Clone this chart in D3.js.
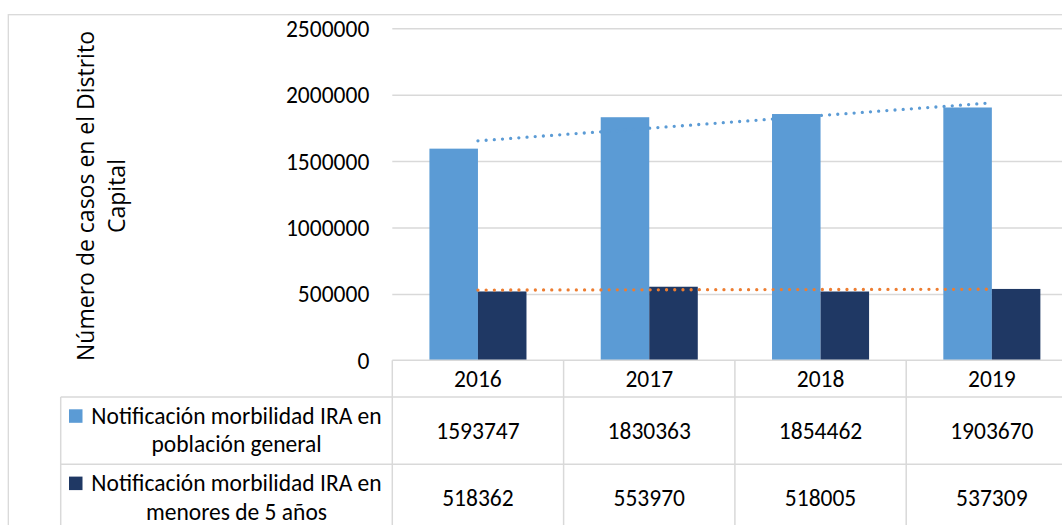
<!DOCTYPE html>
<html>
<head>
<meta charset="utf-8">
<script src="https://cdn.jsdelivr.net/npm/d3@7"></script>
<style>
  html, body { margin: 0; padding: 0; background: #fff; }
  svg { display: block; }
  .tbl text, .tick text { font-family: Carlito, Lato, "Liberation Sans", sans-serif; fill: #000; }
  .ytitle { font-family: "Open Sans", "Noto Sans", sans-serif; fill: #000; }
</style>
</head>
<body>
<svg id="chart" width="1062" height="525"></svg>
<script>
// Years shown on the category axis / table header
const categories = ["2016", "2017", "2018", "2019"];
// Notificación morbilidad IRA en población general
const generalValues = [1593747, 1830363, 1854462, 1903670];
// Notificación morbilidad IRA en menores de 5 años
const menoresValues = [518362, 553970, 518005, 537309];
// Series names as they wrap inside the data-table legend cells
const generalName = ["Notificación morbilidad IRA en", "población general"];
const menoresName = ["Notificación morbilidad IRA en", "menores de 5 años"];
// Value axis ticks
const yTicks = [0, 500000, 1000000, 1500000, 2000000, 2500000];
// Axis title lines
const yTitle = ["Número de casos en el Distrito", "Capital"];

const colors = { general: "#5B9BD5", menores: "#1F3864", trendGeneral: "#5B9BD5", trendMenores: "#ED7D31", grid: "#D9D9D9" };

const series = [
  { key: "general", values: generalValues, name: generalName, color: colors.general, trend: colors.trendGeneral },
  { key: "menores", values: menoresValues, name: menoresName, color: colors.menores, trend: colors.trendMenores }
];

const svg = d3.select("#chart");
const fontSize = 23.5;

const plotLeft = 392.3, plotRight = 1077.5;
const plotTop = 28.3, plotBottom = 360.3;

const x = d3.scaleBand().domain(categories).range([plotLeft, plotRight]).paddingInner(0).paddingOuter(0);
const xSub = d3.scaleBand().domain(series.map(s => s.key)).range([0, x.bandwidth()]).paddingInner(0).paddingOuter(0.765);
const y = d3.scaleLinear().domain([0, 2500000]).range([plotBottom, plotTop]);

// Chart area frame
svg.append("rect")
  .attr("x", 8.3).attr("y", 14.7)
  .attr("width", 1100).attr("height", 600)
  .attr("fill", "none").attr("stroke", colors.grid).attr("stroke-width", 1.3);

// Horizontal gridlines
svg.append("g")
  .attr("transform", `translate(${plotLeft},0)`)
  .call(d3.axisLeft(y).tickValues(yTicks.filter(t => t > 0)).tickSize(-(plotRight - plotLeft)).tickFormat(""))
  .call(g => g.select(".domain").remove())
  .call(g => g.selectAll("line").attr("stroke", colors.grid).attr("stroke-width", 1.5));

// Tick labels
svg.append("g")
  .attr("transform", `translate(${plotLeft},0)`)
  .call(d3.axisLeft(y).tickValues(yTicks).tickSize(0).tickPadding(23).tickFormat(d3.format("d")))
  .call(g => g.select(".domain").remove())
  .call(g => g.selectAll("text").attr("font-size", fontSize).attr("dy", "0.34em"));

// Bars
series.forEach(s => {
  svg.append("g").selectAll("rect")
    .data(categories.map((c, i) => ({ c, v: s.values[i] })))
    .join("rect")
    .attr("x", d => x(d.c) + xSub(s.key))
    .attr("width", xSub.bandwidth())
    .attr("y", d => y(d.v))
    .attr("height", d => y(0) - y(d.v))
    .attr("fill", s.color);
});

// Linear trendlines (least squares over category index 1..n)
function linearFit(vals) {
  const xs = vals.map((_, i) => i + 1);
  const mx = d3.mean(xs), my = d3.mean(vals);
  const sxy = d3.sum(xs, (xi, i) => (xi - mx) * (vals[i] - my));
  const sxx = d3.sum(xs, xi => (xi - mx) * (xi - mx));
  const b = sxy / sxx, a = my - b * mx;
  return i => a + b * (i + 1);
}
series.forEach(s => {
  const f = linearFit(s.values);
  const ends = [0, categories.length - 1];
  svg.append("path")
    .datum(ends)
    .attr("d", d3.line().x(i => x(categories[i]) + x.bandwidth() / 2).y(i => y(f(i))))
    .attr("fill", "none")
    .attr("stroke", s.trend)
    .attr("stroke-width", 3.3)
    .attr("stroke-linecap", "round")
    .attr("stroke-dasharray", "0 8.2");
});

// Axis title
const title = svg.append("text").attr("class", "ytitle")
  .attr("transform", "translate(0,196) rotate(-90)")
  .attr("text-anchor", "middle")
  .attr("font-size", 23);
yTitle.forEach((t, i) => {
  title.append("tspan").attr("x", 0).attr("y", 94 + i * 31).text(t);
});

// Data table
const tbl = svg.append("g").attr("class", "tbl");
const headTop = 360.3, headBottom = 397, row1Bottom = 464.3, row2Bottom = 531.5;
const legendLeft = 60.7;
const tableRight = 1100;
const lineStyle = sel => sel.attr("stroke", colors.grid).attr("stroke-width", 1.5);

tbl.append("line").attr("x1", plotLeft).attr("x2", tableRight).attr("y1", headTop).attr("y2", headTop).call(lineStyle);
[headBottom, row1Bottom, row2Bottom].forEach(yy => {
  tbl.append("line").attr("x1", legendLeft).attr("x2", tableRight).attr("y1", yy).attr("y2", yy).call(lineStyle);
});
tbl.append("line").attr("x1", legendLeft).attr("x2", legendLeft).attr("y1", headBottom).attr("y2", 600).call(lineStyle);
categories.concat([null]).forEach(c => {
  const xx = c === null ? plotRight : x(c);
  tbl.append("line").attr("x1", xx).attr("x2", xx).attr("y1", headTop).attr("y2", 600).call(lineStyle);
});

// Header row
tbl.append("g").selectAll("text").data(categories).join("text")
  .attr("x", d => x(d) + x.bandwidth() / 2)
  .attr("y", (headTop + headBottom) / 2)
  .attr("dy", "0.35em")
  .attr("text-anchor", "middle")
  .attr("font-size", fontSize)
  .text(d => d);

// Value rows + legend cells
const rows = [
  { s: series[0], top: headBottom, bottom: row1Bottom },
  { s: series[1], top: row1Bottom, bottom: row2Bottom }
];
rows.forEach(r => {
  const cy = (r.top + r.bottom) / 2;
  tbl.append("g").selectAll("text").data(r.s.values).join("text")
    .attr("x", (d, i) => x(categories[i]) + x.bandwidth() / 2)
    .attr("y", cy)
    .attr("dy", "0.35em")
    .attr("text-anchor", "middle")
    .attr("font-size", fontSize)
    .text(d => d3.format("d")(d));

  // legend key
  tbl.append("rect")
    .attr("x", 69).attr("y", r.top + 12.3)
    .attr("width", 13.5).attr("height", 13.5)
    .attr("fill", r.s.color);
  const tx = (89 + 384) / 2;
  r.s.name.forEach((line, j) => {
    tbl.append("text")
      .attr("x", tx)
      .attr("y", r.top + 18.5 + j * 28.5)
      .attr("dy", "0.35em")
      .attr("text-anchor", "middle")
      .attr("font-size", fontSize)
      .text(line);
  });
});
</script>
</body>
</html>
